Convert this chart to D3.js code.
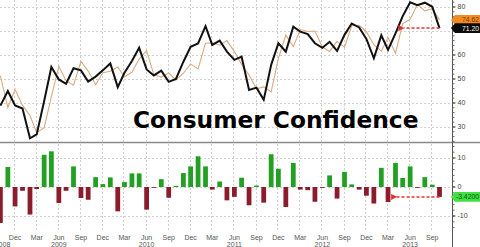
<!DOCTYPE html>
<html>
<head>
<meta charset="utf-8">
<script src="https://cdn.jsdelivr.net/npm/d3@7"></script>
<style>
  body { margin: 0; background: #fff; }
  svg { display: block; font-family: "Liberation Sans", Arial, sans-serif; }
</style>
</head>
<body>
<div id="chart"></div>
<script>
// 数据: Oct 2008 .. Oct 2013, monthly
var actual = [38.9, 45.0, 39.0, 37.7, 25.3, 26.9, 40.8, 55.0, 49.8, 48.0, 54.5, 53.6,
    48.9, 51.0, 53.6, 56.5, 46.6, 52.6, 57.5, 63.0, 54.0, 51.5, 53.5, 48.8,
    50.0, 57.2, 63.4, 64.8, 72.0, 64.2, 66.0, 61.4, 58.0, 59.3, 45.4, 46.4,
    41.3, 55.9, 64.9, 61.4, 71.8, 69.7, 68.7, 64.9, 63.0, 65.5, 61.7, 68.4,
    73.1, 71.5, 66.7, 58.6, 68.2, 62.1, 69.0, 76.2, 82.0, 80.8, 81.8, 80.1, 71.2];
var consensus = [51.3, 38.1, 45.7, 39.0, 34.8, 27.6, 29.7, 42.7, 55.3, 49.3, 47.4, 57.4,
    53.3, 47.6, 52.6, 53.2, 55.0, 50.9, 52.8, 58.3, 61.8, 51.8, 50.8, 52.5,
    49.6, 52.4, 56.3, 54.2, 64.9, 65.1, 64.1, 66.0, 61.4, 56.1, 51.7, 45.9,
    46.7, 44.6, 58.6, 68.3, 63.5, 70.6, 69.8, 70.0, 63.3, 61.5, 65.7, 63.2,
    72.2, 72.4, 69.7, 64.3, 61.6, 67.3, 60.7, 73.1, 74.9, 81.1, 78.4, 79.3, 74.62];
var months = d3.timeMonth.range(new Date(2008, 9, 1), new Date(2013, 10, 1));
var tickMonths = [11, 2, 5, 8];          // Dec, Mar, Jun, Sep
var years = [2008, 2009, 2010, 2011, 2012, 2013];
var topTicks = [30, 40, 50, 60, 70, 80];
var bottomTicks = [-10, 0, 10];
var title = "Consumer Confidence";

var W = 480, H = 247, axisX = 452;
var svg = d3.select("#chart").append("svg").attr("width", W).attr("height", H);

var x = d3.scaleTime()
    .domain([months[0], months[months.length - 1]])
    .range([0.4, 439.5]);
var yTop = d3.scaleLinear().domain([30, 80]).range([127, 7]);
var yBot = d3.scaleLinear().domain([-10, 10]).range([216, 158]);

var surprise = actual.map(function (d, i) { return d - consensus[i]; });
var quarter = months.filter(function (d) { return tickMonths.indexOf(d.getMonth()) >= 0; });

// 网格
var grid = svg.append("g").attr("stroke", "#cfcfcf").attr("stroke-dasharray", "2,2").attr("stroke-width", 1);
grid.selectAll(".vt").data(quarter).enter().append("line")
    .attr("x1", function (d) { return Math.round(x(d)) - 0.5; })
    .attr("x2", function (d) { return Math.round(x(d)) - 0.5; })
    .attr("y1", 0).attr("y2", 141);
grid.selectAll(".vb").data(quarter).enter().append("line")
    .attr("x1", function (d) { return Math.round(x(d)) - 0.5; })
    .attr("x2", function (d) { return Math.round(x(d)) - 0.5; })
    .attr("y1", 144).attr("y2", 231);
grid.selectAll(".ht").data(topTicks).enter().append("line")
    .attr("x1", 0).attr("x2", axisX)
    .attr("y1", function (d) { return Math.round(yTop(d)) + 0.5; })
    .attr("y2", function (d) { return Math.round(yTop(d)) + 0.5; });
grid.selectAll(".hb").data(bottomTicks).enter().append("line")
    .attr("x1", 0).attr("x2", axisX)
    .attr("y1", function (d) { return Math.round(yBot(d)) + 0.5; })
    .attr("y2", function (d) { return Math.round(yBot(d)) + 0.5; });

// 标题
svg.append("text")
    .attr("x", 133).attr("y", 128)
    .attr("font-family", "DejaVu Sans")
    .attr("font-weight", "bold")
    .attr("font-size", 23.3)
    .attr("fill", "#000")
    .text(title);

// 折线
var lineTop = d3.line()
    .x(function (d, i) { return x(months[i]); })
    .y(function (d) { return yTop(d); });
svg.append("path").datum(consensus)
    .attr("d", lineTop).attr("fill", "none")
    .attr("stroke", "#d9aa80").attr("stroke-width", 1.1);
svg.append("path").datum(actual)
    .attr("d", lineTop).attr("fill", "none")
    .attr("stroke", "#111").attr("stroke-width", 2).attr("stroke-linejoin", "miter");

// 柱
var bw = (x(months[1]) - x(months[0])) * 0.64;
svg.append("g").selectAll("rect").data(surprise).enter().append("rect")
    .attr("x", function (d, i) { return x(months[i]) - bw / 2; })
    .attr("y", function (d) { return d > 0 ? yBot(d) : yBot(0); })
    .attr("width", bw)
    .attr("height", function (d) { return Math.abs(yBot(d) - yBot(0)); })
    .attr("fill", function (d) { return d > 0 ? "#21a021" : "#8c1b2c"; });

// 分隔线 + 右侧轴
svg.append("line").attr("x1", 0).attr("x2", W).attr("y1", 142.5).attr("y2", 142.5)
    .attr("stroke", "#8a8a8a").attr("stroke-width", 1.6);
svg.append("line").attr("x1", axisX + 0.5).attr("x2", axisX + 0.5).attr("y1", 0).attr("y2", H)
    .attr("stroke", "#555").attr("stroke-width", 1);

function rightAxis(scale, ticks, minor) {
    var g = svg.append("g").attr("transform", "translate(" + (axisX + 0.5) + ",0)");
    g.selectAll(".mn").data(minor).enter().append("line")
        .attr("x1", 0).attr("x2", 2)
        .attr("y1", function (d) { return scale(d); }).attr("y2", function (d) { return scale(d); })
        .attr("stroke", "#666");
    g.selectAll(".mj").data(ticks).enter().append("line")
        .attr("x1", 0).attr("x2", 3)
        .attr("y1", function (d) { return scale(d); }).attr("y2", function (d) { return scale(d); })
        .attr("stroke", "#444");
    g.selectAll("text").data(ticks).enter().append("text")
        .attr("x", 5).attr("y", function (d) { return scale(d); })
        .attr("dy", "0.35em").attr("font-size", 7).attr("fill", "#444")
        .text(function (d) { return d; });
}
rightAxis(yTop, topTicks, d3.range(24, 83, 2));
rightAxis(yBot, bottomTicks, d3.range(-14, 16, 2));

// 月份/年份
svg.append("g").selectAll("text").data(quarter).enter().append("text")
    .attr("x", function (d) { return x(d); }).attr("y", 239.5)
    .attr("text-anchor", "middle").attr("font-size", 7).attr("fill", "#555")
    .text(d3.timeFormat("%b"));
svg.append("g").selectAll("text").data(years).enter().append("text")
    .attr("x", function (d) { return Math.max(x(new Date(d, 5, 1)), 2.5); })
    .attr("y", 246.5)
    .attr("text-anchor", "middle").attr("font-size", 7).attr("fill", "#555")
    .text(function (d) { return d; });

// 标签
function flag(yc, fill, txtColor, label) {
    var h = 4.8;
    svg.append("path")
        .attr("d", "M" + (axisX - 1) + "," + yc + "L" + (axisX + 3) + "," + (yc - h) +
            "L" + W + "," + (yc - h) + "L" + W + "," + (yc + h) + "L" + (axisX + 3) + "," + (yc + h) + "Z")
        .attr("fill", fill);
    svg.append("text").attr("x", W - 1).attr("y", yc).attr("dy", "0.35em")
        .attr("text-anchor", "end")
        .attr("font-size", 6.8).attr("fill", txtColor).text(label);
}
var last = actual.length - 1;
flag(yTop(consensus[last]), "#f08a24", "#7a3a00", consensus[last].toFixed(2));
flag(yTop(actual[last]), "#0a0a0a", "#fff", actual[last].toFixed(2));
flag(yBot(surprise[last]), "#3fe03f", "#145214", surprise[last].toFixed(4));

// 红色箭头
var defs = svg.append("defs");
defs.append("marker").attr("id", "ah")
    .attr("viewBox", "0 0 10 10").attr("refX", 1).attr("refY", 5)
    .attr("markerWidth", 4).attr("markerHeight", 4).attr("orient", "auto")
    .append("path").attr("d", "M10,0L0,5L10,10Z").attr("fill", "#e8302a");
function arrow(x1, x2, yy) {
    svg.append("line").attr("x1", x1).attr("x2", x2).attr("y1", yy).attr("y2", yy)
        .attr("stroke", "#e8302a").attr("stroke-width", 1.5)
        .attr("stroke-dasharray", "3,2").attr("marker-end", "url(#ah)");
}
arrow(x(months[last]), x(months[last - 5]) + 1, yTop(actual[last]));
arrow(x(months[last]), x(months[last - 6]) + 1, yBot(surprise[last]));
</script>
</body>
</html>
